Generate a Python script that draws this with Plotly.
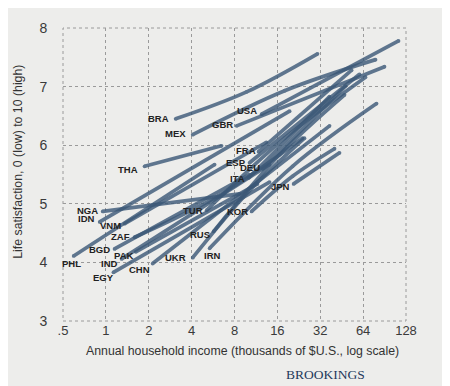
import math
import plotly.graph_objects as go

countries = ["USA", "BRA", "GBR", "MEX", "THA", "FRA", "ESP", "DEU", "ITA", "JPN",
             "KOR", "RUS", "TUR", "NGA", "IDN", "VNM", "ZAF", "BGD", "PHL", "PAK",
             "IND", "EGY", "CHN", "UKR", "IRN"]
# income (thousands of $US) and life satisfaction at low, middle and high end of each curve
inc_lo = [12.4, 3.09, 8.28, 4.07, 1.87, 11.8, 10.2, 12.6, 10.05, 20.8,
          10.55, 5.71, 5.10, 0.95, 0.905, 1.355, 1.59, 1.15, 0.594, 1.62,
          1.29, 1.13, 2.13, 4.07, 5.35]
ls_lo = [6.53, 6.45, 6.33, 6.18, 5.64, 5.89, 5.70, 5.60, 5.44, 5.34,
         4.87, 4.53, 4.89, 4.87, 4.69, 4.66, 4.43, 4.23, 4.11, 4.18,
         4.06, 3.83, 3.98, 4.08, 4.24]
inc_mid = [None, 9.73, None, 18.0, None, None, None, None, None, None,
           20.45, 16.6, 18.0, None, None, None, 6.19, None, None, None,
           None, None, None, 10.05, 20.45]
ls_mid = [None, 6.91, None, 6.93, None, None, None, None, None, None,
          5.47, 5.84, 6.12, None, None, None, 5.14, None, None, None,
          None, None, None, 5.21, 5.64]
inc_hi = [113.4, 30.6, 90.4, 78.2, 6.49, 53.1, 60.4, 48.2, 37.2, 43.7,
          40.3, 47.4, 66.5, 8.69, 19.5, 13.4, 24.0, 10.2, 5.80, 11.6,
          14.1, 14.1, 37.2, 24.8, 79.5]
ls_hi = [7.78, 7.56, 7.34, 7.46, 5.99, 7.28, 7.21, 7.01, 6.83, 5.87,
         5.94, 6.86, 7.16, 5.17, 6.58, 6.05, 6.12, 5.50, 5.67, 5.34,
         5.67, 5.37, 6.33, 6.12, 6.71]

x_ticks = [0.5, 1, 2, 4, 8, 16, 32, 64, 128]
x_tick_text = [".5", "1", "2", "4", "8", "16", "32", "64", "128"]
y_ticks = [3, 4, 5, 6, 7, 8]

# label pixel offsets relative to start of line (style only)
label_shift = {
    "USA": (-3, 4), "BRA": (-5, 0), "GBR": (-2, 1), "MEX": (-5, 1), "THA": (-5, -3),
    "FRA": (-1, 1), "ESP": (-2, 0), "DEU": (-1, 1), "ITA": (-2, 0), "JPN": (-2, -3),
    "KOR": (-2, 0), "RUS": (-2, -3), "TUR": (-2, 0), "NGA": (-3, 1), "IDN": (-3, 3),
    "VNM": (-2, -2), "ZAF": (-3, 1), "BGD": (-3, -1), "PHL": (9, -8), "PAK": (-1, -4),
    "IND": (-2, -5), "EGY": (3, -5), "CHN": (-1, -6), "UKR": (-5, 0), "IRN": (13, -7),
}

BG = "#EDEDEB"
LINE = "#3b5877"
GRID = "#9a9a9a"

fig = go.Figure()
for i, c in enumerate(countries):
    xs = [inc_lo[i]]
    ys = [ls_lo[i]]
    if inc_mid[i] is not None:
        xs.append(inc_mid[i]); ys.append(ls_mid[i])
    xs.append(inc_hi[i]); ys.append(ls_hi[i])
    fig.add_trace(go.Scatter(
        x=xs, y=ys, mode="lines+markers",
        line=dict(color=LINE, width=3.7, shape="spline", smoothing=1.0),
        marker=dict(size=3.7, color=LINE, line=dict(width=0)),
        opacity=0.8, hoverinfo="skip", showlegend=False, cliponaxis=False,
    ))
    dx, dy = label_shift[c]
    fig.add_annotation(
        x=math.log10(inc_lo[i]), y=ls_lo[i], text=c, showarrow=False,
        xanchor="right", yanchor="middle", xshift=dx, yshift=dy,
        font=dict(family="Liberation Sans", size=9.5, color="#222222", weight="bold"),
    )

grid = dict(showgrid=True, gridcolor=GRID, gridwidth=1, griddash="dot",
            zeroline=False, showline=False)
fig.update_xaxes(type="log", range=[math.log10(0.5), math.log10(128)],
                 tickvals=x_ticks, ticktext=x_tick_text, ticks="",
                 tickfont=dict(family="Liberation Sans", size=13, color="#3a3a3a"),
                 **grid)
fig.update_yaxes(range=[3, 8], tickvals=y_ticks, ticks="outside", ticklen=12,
                 tickcolor=BG, tickfont=dict(family="Liberation Sans", size=14, color="#3a3a3a"),
                 **grid)

# dotted frame (edge grid lines)
fig.add_shape(type="rect", xref="paper", yref="paper", x0=0, y0=0, x1=1, y1=1,
              line=dict(color=GRID, width=1, dash="dot"), layer="below")

fig.add_annotation(xref="paper", yref="paper", x=0.524, y=-0.102, yanchor="middle",
                   text="Annual household income (thousands of $U.S., log scale)",
                   showarrow=False, font=dict(family="Liberation Sans", size=12.3, color="#333333"))
fig.add_annotation(xref="paper", yref="paper", x=-0.13, y=0.545, xanchor="center",
                   text="Life satisfaction, 0 (low) to 10 (high)", textangle=-90,
                   showarrow=False, font=dict(family="Liberation Sans", size=12.3, color="#333333"))
fig.add_annotation(xref="paper", yref="paper", x=0.885, y=-0.183, yanchor="middle",
                   text="BROOKINGS", showarrow=False,
                   font=dict(family="Liberation Serif", size=13.5, color="#1f3a5c"))

# page body has an 8px default margin, so the figure is made 8px smaller
fig.update_layout(
    width=442, height=378, paper_bgcolor=BG, plot_bgcolor=BG,
    margin=dict(l=55, r=44, t=12, b=65), showlegend=False,
)
fig.write_html("out.html")
